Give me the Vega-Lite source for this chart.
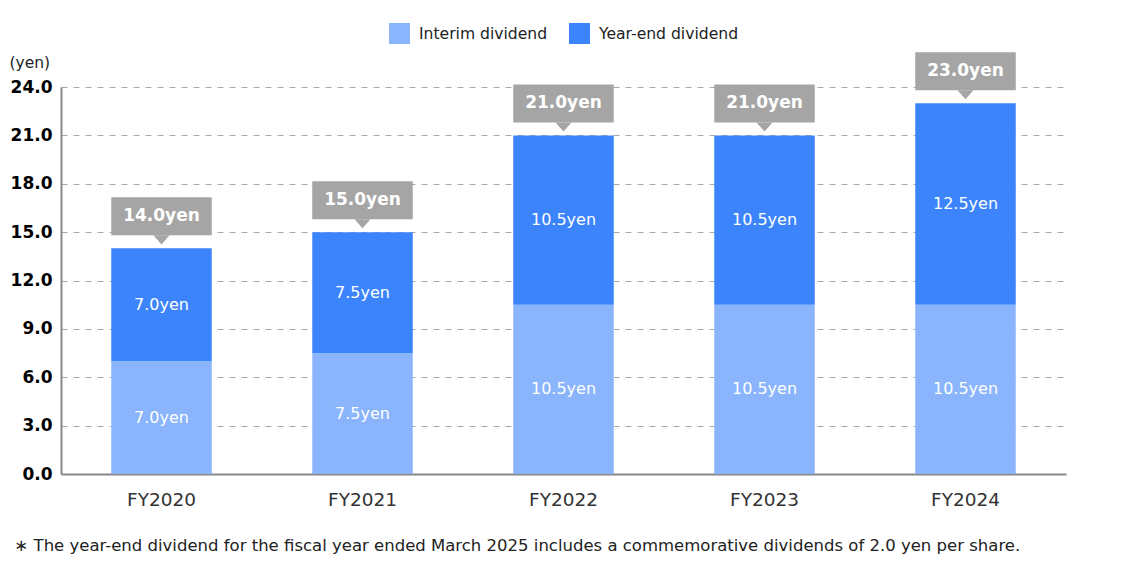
{
  "$schema": "https://vega.github.io/schema/vega-lite/v6.json",
  "width": 1005,
  "height": 387,
  "autosize": {"type": "none"},
  "padding": {"left": 61, "top": 87, "right": 64, "bottom": 96},
  "background": "white",
  "config": {
    "font": "DejaVu Sans",
    "view": {"stroke": null}
  },
  "data": {
    "values": [
      {"year": "FY2020", "type": "Interim dividend", "value": 7.0},
      {"year": "FY2020", "type": "Year-end dividend", "value": 7.0},
      {"year": "FY2021", "type": "Interim dividend", "value": 7.5},
      {"year": "FY2021", "type": "Year-end dividend", "value": 7.5},
      {"year": "FY2022", "type": "Interim dividend", "value": 10.5},
      {"year": "FY2022", "type": "Year-end dividend", "value": 10.5},
      {"year": "FY2023", "type": "Interim dividend", "value": 10.5},
      {"year": "FY2023", "type": "Year-end dividend", "value": 10.5},
      {"year": "FY2024", "type": "Interim dividend", "value": 10.5},
      {"year": "FY2024", "type": "Year-end dividend", "value": 12.5}
    ]
  },
  "encoding": {
    "x": {
      "field": "year",
      "type": "nominal",
      "scale": {"paddingInner": 0.5, "paddingOuter": 0.25},
      "axis": {
        "labelAngle": 0,
        "labelFontSize": 18.5,
        "labelColor": "#333333",
        "labelPadding": 16,
        "ticks": false,
        "domainColor": "#888888",
        "domainWidth": 2,
        "title": "∗ The year-end dividend for the fiscal year ended March 2025 includes a commemorative dividends of 2.0 yen per share.",
        "titleFontSize": 16.5,
        "titleFontWeight": "normal",
        "titleColor": "#222222",
        "titleAnchor": "start",
        "titleAlign": "left",
        "titleX": -47,
        "titleY": 63
      }
    }
  },
  "layer": [
    {
      "mark": {"type": "bar"},
      "encoding": {
        "y": {
          "field": "value",
          "type": "quantitative",
          "stack": "zero",
          "scale": {"domain": [0, 24], "nice": false},
          "axis": {
            "values": [0, 3, 6, 9, 12, 15, 18, 21, 24],
            "format": ".1f",
            "labelFontSize": 17,
            "labelFontWeight": "bold",
            "labelColor": "#000000",
            "labelPadding": 9,
            "ticks": false,
            "domainColor": "#888888",
            "domainWidth": 2,
            "grid": true,
            "gridColor": "#aaaaaa",
            "gridDash": [6, 6],
            "gridWidth": 1,
            "title": "(yen)",
            "titleAngle": 0,
            "titleFontSize": 15.5,
            "titleFontWeight": "normal",
            "titleColor": "#222222",
            "titleAlign": "left",
            "titleBaseline": "middle",
            "titleX": -52,
            "titleY": -25
          }
        },
        "color": {
          "field": "type",
          "type": "nominal",
          "scale": {
            "domain": ["Interim dividend", "Year-end dividend"],
            "range": ["#8ab4fc", "#3c84fc"]
          },
          "legend": {
            "title": null,
            "orient": "none",
            "direction": "horizontal",
            "legendX": 328,
            "legendY": -64,
            "symbolType": "square",
            "symbolSize": 441,
            "symbolStrokeWidth": 0,
            "labelFontSize": 15.6,
            "labelColor": "#222222",
            "labelOffset": 9,
            "columnPadding": 21
          }
        },
        "order": {"field": "type"}
      }
    },
    {
      "transform": [
        {"stack": "value", "groupby": ["year"], "sort": [{"field": "type"}], "as": ["v0", "v1"]},
        {"calculate": "(datum.v0 + datum.v1) / 2", "as": "mid"},
        {"calculate": "format(datum.value, '.1f') + 'yen'", "as": "label"}
      ],
      "mark": {"type": "text", "color": "white", "fontSize": 16, "baseline": "middle"},
      "encoding": {
        "y": {"field": "mid", "type": "quantitative"},
        "text": {"field": "label"}
      }
    },
    {
      "transform": [
        {"aggregate": [{"op": "sum", "field": "value", "as": "total"}], "groupby": ["year"]},
        {"calculate": "format(datum.total, '.1f') + 'yen'", "as": "tlabel"}
      ],
      "layer": [
        {
          "mark": {"type": "bar", "color": "#a5a5a5", "yOffset": -51, "y2Offset": -13},
          "encoding": {
            "y": {"field": "total", "type": "quantitative"},
            "y2": {"field": "total"}
          }
        },
        {
          "mark": {"type": "point", "shape": "M-1,-0.6L1,-0.6L0,0.55Z", "filled": true, "color": "#a5a5a5", "opacity": 1, "size": 256, "yOffset": -8.2},
          "encoding": {
            "y": {"field": "total", "type": "quantitative"}
          }
        },
        {
          "mark": {"type": "text", "color": "white", "fontSize": 17, "fontWeight": "bold", "baseline": "middle", "yOffset": -32},
          "encoding": {
            "y": {"field": "total", "type": "quantitative"},
            "text": {"field": "tlabel"}
          }
        }
      ]
    }
  ]
}
